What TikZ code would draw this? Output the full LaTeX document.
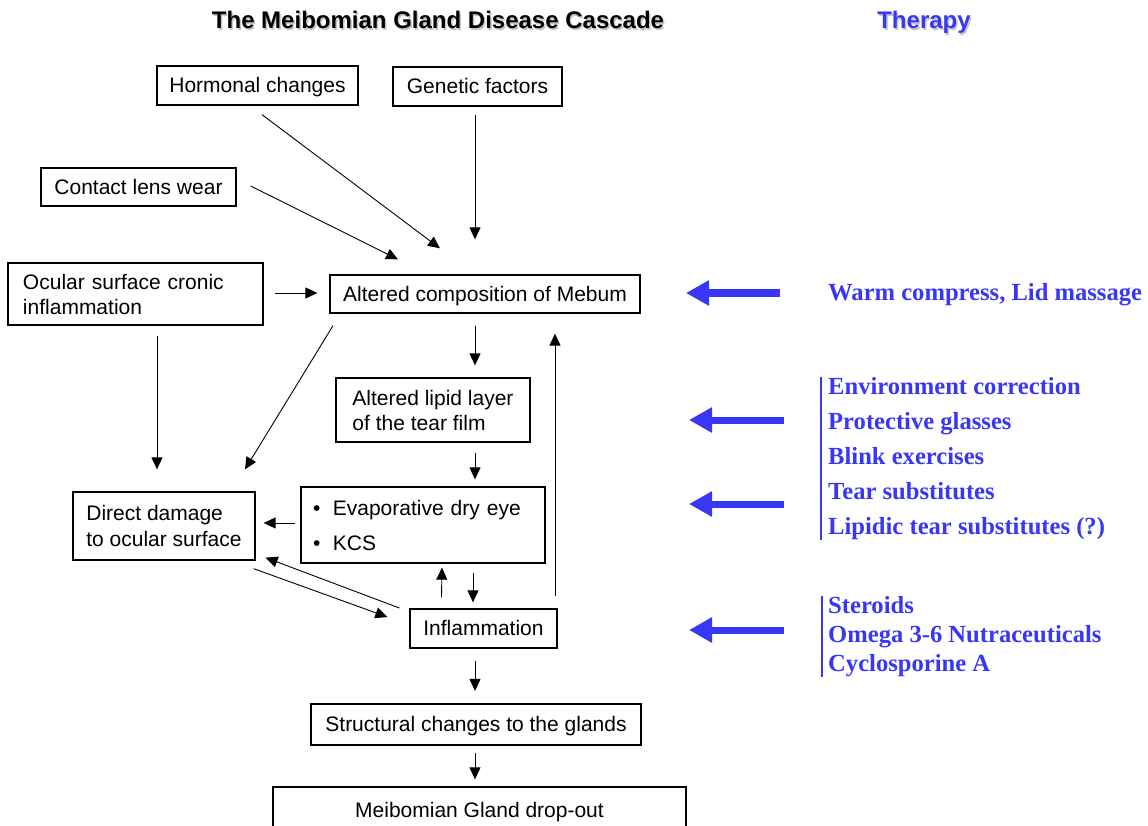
\documentclass[tikz,border=0pt]{standalone}
\usepackage{fontspec}
\setmainfont{Liberation Sans}
\newfontfamily\therapyfont{Liberation Serif}
\usetikzlibrary{arrows.meta}

\definecolor{therapyblue}{RGB}{55,55,245}

\tikzset{
  box/.style={draw, line width=1.3pt, inner sep=0pt, align=left,
    font=\fontsize{21}{25}\selectfont},
  oneline/.style={text height=19pt, text depth=4.5pt},
  arr/.style={line width=0.9pt, -{Triangle[length=12pt,width=11pt]}},
  therapyarr/.style={therapyblue, line width=7pt, -{Triangle[length=23pt,width=24pt]}},
  therapytext/.style={therapyblue, inner ysep=0pt, inner xsep=8pt, align=left,
    font=\therapyfont\bfseries\fontsize{24.6}{35}\selectfont},
  titletext/.style={inner sep=0pt, font=\bfseries\fontsize{24}{28}\selectfont},
}

\begin{document}
\begin{tikzpicture}[x=1pt,y=-1pt]
  \clip (0,0) rectangle (1148,826);

  % headings (with soft shadow)
  \node (titleshadow) [titletext, gray!45, anchor=base] at (439.5,30.5) {The Meibomian Gland Disease Cascade};
  \node (title) [titletext, anchor=base] at (438,29) {The Meibomian Gland Disease Cascade};
  \node (therapyshadow) [titletext, gray!45, anchor=base] at (925.5,30.5) {Therapy};
  \node (therapy) [titletext, therapyblue, anchor=base] at (924,29) {Therapy};

  % cascade boxes
  \node (horm) [box, oneline, minimum width=201pt, minimum height=39pt] at (257.5,85.5) {Hormonal changes};
  \node (gen) [box, oneline, minimum width=169pt, minimum height=39pt] at (477.5,86.5) {Genetic factors};
  \node (lens) [box, oneline, minimum width=195pt, minimum height=38pt] at (138.5,187) {Contact lens wear};
  \node (ocular) [box, text width=225pt, inner xsep=15pt, minimum height=62pt] at (135.5,294)
    {Ocular surface cronic\\inflammation};
  \node (alt) [box, oneline, minimum width=310pt, minimum height=38pt] at (485,294) {Altered composition of Mebum};
  \node (lipid) [box, minimum width=194pt, minimum height=64pt] at (433,410)
    {Altered lipid layer\\of the tear film};
  \node (evap) [box, text width=220pt, inner xsep=12pt, minimum height=76pt,
    font=\fontsize{21}{35}\selectfont] at (423,525)
    {\textbullet\hspace{12.5pt}Evaporative dry eye\\\textbullet\hspace{12.5pt}KCS};
  \node (direct) [box, minimum width=182pt, minimum height=68pt, font=\fontsize{21}{26}\selectfont] at (164,526)
    {Direct damage\\to ocular surface};
  \node (infl) [box, oneline, minimum width=147pt, minimum height=39pt] at (483.5,628.5) {Inflammation};
  \node (struct) [box, oneline, line width=2.2pt, minimum width=330pt, minimum height=41pt] at (476,724.5)
    {Structural changes to the glands};
  \node (drop) [box, oneline, minimum width=413pt, minimum height=46pt] at (479.5,810) {Meibomian Gland drop-out};

  % cascade arrows
  \draw[arr] ([shift={(4.5,9)}]horm.south) -- ([shift={(-45,-26)}]alt.north);
  \draw[arr] ([shift={(-2.5,8)}]gen.south) -- ([shift={(-10,-35)}]alt.north);
  \draw[arr] ([shift={(14,-1)}]lens.east) -- ([shift={(-87,-15)}]alt.north);
  \draw[arr] ([shift={(11,-1)}]ocular.east) -- ([shift={(-12,-1)}]alt.west);
  \draw[arr] ([shift={(21.5,10)}]ocular.south) -- ([shift={(-7,-22)}]direct.north);
  \draw[arr] ([shift={(-152,12)}]alt.south) -- ([shift={(81,-22)}]direct.north);
  \draw[arr] ([shift={(-10,12)}]alt.south) -- ([shift={(42,-12)}]lipid.north);
  \draw[arr] ([shift={(42,10)}]lipid.south) -- ([shift={(52,-7)}]evap.north);
  \draw[arr] ([shift={(-5,-2)}]evap.west) -- ([shift={(8,-3)}]direct.east);
  \draw[arr] ([shift={(71.5,-12)}]infl.north) -- ([shift={(70,20)}]alt.south);
  \draw[arr] ([shift={(-42,-11)}]infl.north) -- ([shift={(19,4)}]evap.south);
  \draw[arr] ([shift={(50,9)}]evap.south) -- ([shift={(-10.5,-6)}]infl.north);
  \draw[arr] ([shift={(-2,8)}]direct.south east) -- ([shift={(-22,-11.5)}]infl.west);
  \draw[arr] ([shift={(-10,-20.5)}]infl.west) -- ([shift={(10,-3)}]direct.south east);
  \draw[arr] ([shift={(-8.5,12)}]infl.south) -- ([shift={(-1,-12)}]struct.north);
  \draw[arr] ([shift={(-1,7)}]struct.south) -- ([shift={(-4.5,-7)}]drop.north);

  % therapy texts
  \node (warm) [therapytext, inner xsep=0pt, anchor=base west] at (828,301) {Warm compress, Lid massage};
  \node (tear) [therapytext, anchor=north west] at (820,377)
    {Environment correction\\Protective glasses\\Blink exercises\\Tear substitutes\\Lipidic tear substitutes (?)};
  \node (drug) [therapytext, anchor=north west, font=\therapyfont\bfseries\fontsize{24.6}{29}\selectfont] at (820,596)
    {Steroids\\Omega 3-6 Nutraceuticals\\Cyclosporine A};
  \draw[therapyblue, line width=1.2pt] ([xshift=1pt]tear.north west) -- ([xshift=1pt]tear.south west);
  \draw[therapyblue, line width=1.2pt] ([xshift=2pt]drug.north west) -- ([xshift=2pt]drug.south west);

  % therapy arrows
  \coordinate (warmtail) at (780,293);
  \coordinate (warmtip) at (686,293);
  \coordinate (lipidtail) at (784,420);
  \coordinate (lipidtip) at (689,420);
  \coordinate (evaptail) at (784,504);
  \coordinate (evaptip) at (689,504);
  \coordinate (infltail) at (784,630);
  \coordinate (infltip) at (689,630);
  \draw[therapyarr] (warmtail) -- (warmtip);
  \draw[therapyarr] (lipidtail) -- (lipidtip);
  \draw[therapyarr] (evaptail) -- (evaptip);
  \draw[therapyarr] (infltail) -- (infltip);
\end{tikzpicture}
\end{document}
